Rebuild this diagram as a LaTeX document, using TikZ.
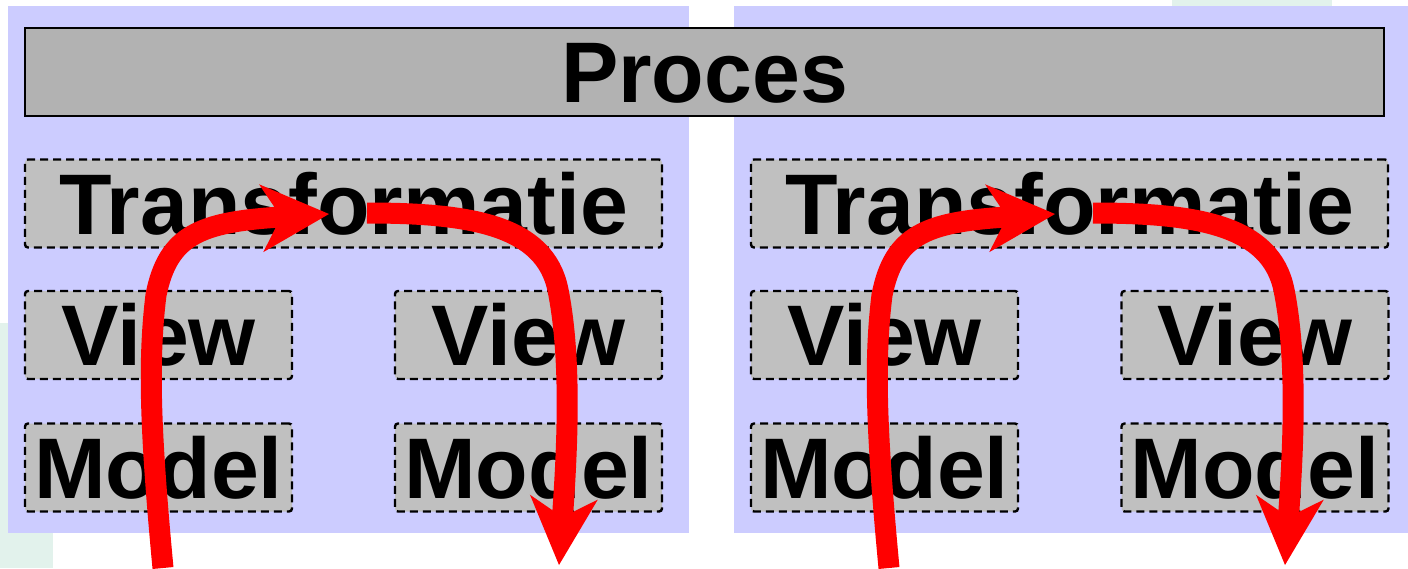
\documentclass[tikz,border=0pt]{standalone}
\usepackage{fontspec}
\setmainfont{Liberation Sans}
\usetikzlibrary{arrows.meta}
\definecolor{panel}{HTML}{CCCCFF}
\definecolor{mint}{HTML}{E2F2EC}
\definecolor{headgray}{HTML}{B2B2B2}
\definecolor{layergray}{HTML}{C0C0C0}
\definecolor{flowred}{HTML}{FF0000}

\begin{document}
\begin{tikzpicture}[x=0.5pt,y=-0.5pt,
  labelfont/.style={font=\fontsize{43}{50}\selectfont\bfseries},
  headbox/.style={draw=black, line width=1pt, fill=headgray, labelfont,
    minimum width=679.5pt, minimum height=44pt, inner sep=0pt,
    text height=30.8pt, text depth=0pt},
  layerbox/.style={draw=black, line width=1.2pt, dash pattern=on 4pt off 2.5pt,
    fill=layergray, rounded corners=1.5pt, labelfont, inner sep=0pt,
    text height=30.8pt, text depth=0pt, minimum height=44pt},
  widebox/.style={layerbox, minimum width=318.5pt},
  halfbox/.style={layerbox, minimum width=133.5pt},
  flow/.style={draw=flowred, line width=10.5pt,
    -{Stealth[length=34pt,width=34pt,inset=10pt,line width=0pt]}}
]
\useasboundingbox (0,0) rectangle (1408,568);

% background decorations
\fill[mint] (0,323) rectangle (53,568);
\fill[mint] (1172,0) rectangle (1332,40);

% the two process panels
\fill[panel] (8,6) rectangle (689,533);
\fill[panel] (734,6) rectangle (1408,533);

% shared process header
\node[headbox] (proces) at (704.5,72) {Proces};

% left panel layers
\node[widebox] (transL) at (343.5,203.5) {Transformatie};
\node[halfbox] (viewLa) at (158.5,335) {View};
\node[halfbox] (viewLb) at (528.5,335) {View};
\node[halfbox] (modelLa) at (158.5,467.5) {Model};
\node[halfbox] (modelLb) at (528.5,467.5) {Model};

% right panel layers
\node[widebox] (transR) at (1069.5,203.5) {Transformatie};
\node[halfbox] (viewRa) at (884.5,335) {View};
\node[halfbox] (viewRb) at (1255,335) {View};
\node[halfbox] (modelRa) at (884.5,467.5) {Model};
\node[halfbox] (modelRb) at (1255,467.5) {Model};

% flow end points
\coordinate (inL) at (163,568);
\coordinate (midLa) at (156,295);
\coordinate (tipLa) at (329,214);
\coordinate (startLb) at (367,213);
\coordinate (midLb) at (558,290);
\coordinate (outL) at (559,565);

\coordinate (inR) at (889,568);
\coordinate (midRa) at (882,295);
\coordinate (tipRa) at (1055,214);
\coordinate (startRb) at (1093,213);
\coordinate (midRb) at (1284,290);
\coordinate (outR) at (1285,565);

% flows through the left panel
\draw[flow] (inL) .. controls (150,430) and (148,360) .. (midLa)
  .. controls (168,235) and (200,222) .. (tipLa);
\draw[flow] (startLb) .. controls (470,213) and (545,225) .. (midLb)
  .. controls (571,355) and (568,440) .. (outL);

% flows through the right panel
\draw[flow] (inR) .. controls (876,430) and (874,360) .. (midRa)
  .. controls (894,235) and (926,222) .. (tipRa);
\draw[flow] (startRb) .. controls (1196,213) and (1271,225) .. (midRb)
  .. controls (1297,355) and (1294,440) .. (outR);
\end{tikzpicture}
\end{document}
